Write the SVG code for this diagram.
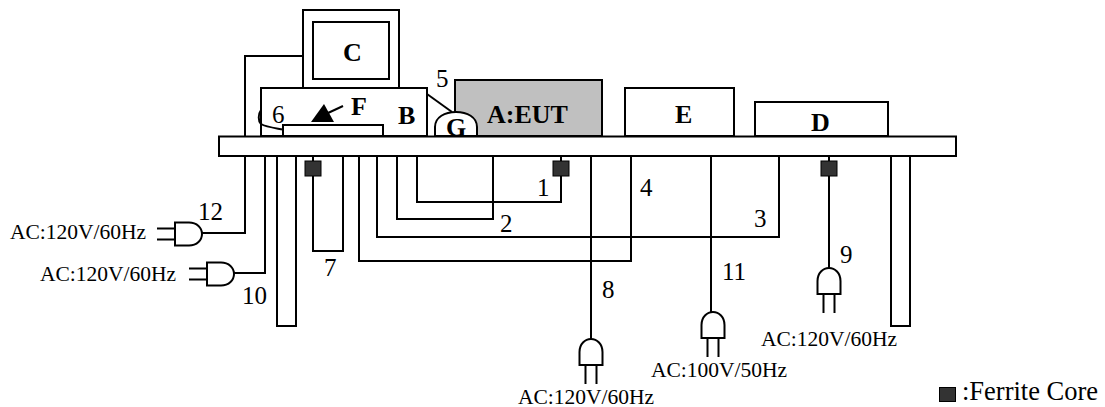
<svg xmlns="http://www.w3.org/2000/svg" width="1105" height="407" viewBox="0 0 1105 407">
<defs>
<style>
.s{fill:none;stroke:#000;stroke-width:2}
.b{fill:#fff;stroke:#000;stroke-width:2}
.t{font-family:"Liberation Serif",serif;fill:#000}
.n{font-size:25px}
.l{font-size:21.5px}
.h{font-size:26px;font-weight:bold}
.fc{fill:#333;stroke:#000;stroke-width:1}
</style>
<g id="plugD"><path class="b" d="M-11.500 26V13C-11.500 5-6 0 0 0S11.500 5 11.500 13V26Z"/><path class="s" d="M-5.500 26V45M5.500 26V45"/></g>
<g id="plugL"><path class="b" d="M0 -11.500H14C22 -11.500 27 -6 27 0S22 11.500 14 11.500H0Z"/><path class="s" d="M0 -5.500H-18M0 5.500H-18"/></g>
</defs>
<g id="table-legs">
<rect class="b" x="277" y="156" width="19" height="170"/>
<rect class="b" x="891" y="156" width="19" height="170"/>
</g>
<g id="C"><rect class="b" x="303" y="10" width="96" height="78"/><rect class="b" x="313" y="22" width="76" height="57"/><text class="t h" x="343" y="61">C</text></g>
<g id="B"><rect class="b" x="261" y="88" width="166" height="48"/><text class="t h" x="398" y="124">B</text></g>
<g id="F"><rect class="b" x="283" y="125" width="100" height="11"/><path d="M311 122L324 104L334 122Z" fill="#000"/><path class="s" d="M328 113L343 106"/><text class="t h" x="351" y="115">F</text></g>
<g id="A"><rect x="455" y="80" width="147" height="56" fill="#c0c0c0" stroke="#000" stroke-width="2"/><text class="t h" x="487" y="123">A:EUT</text></g>
<g id="G"><path class="b" d="M435 136V127C435 117 445 112 456 112C467 112 477 117 477 127V136Z"/><text class="t h" x="446" y="136">G</text></g>
<g id="E"><rect class="b" x="625" y="88" width="109" height="48"/><text class="t h" x="675" y="123">E</text></g>
<g id="D"><rect class="b" x="755" y="102" width="133" height="34"/><text class="t h" x="811" y="131">D</text></g>
<g id="table"><rect class="b" x="219" y="136.500" width="737" height="19.500"/></g>
<g id="connectors">
<path class="s" d="M302 56H245V136M245 156V233H202"/>
<path class="s" d="M265 156V273H234"/>
<path class="s" d="M313 156V251H343V156"/>
<path class="s" d="M359 156V261H631V156"/>
<path class="s" d="M377 156V237H779V156"/>
<path class="s" d="M397 156V219H493V156"/>
<path class="s" d="M417 156V202H561V156"/>
<path class="s" d="M591 156V339"/>
<path class="s" d="M711 156V312"/>
<path class="s" d="M829 156V268"/>
<path class="s" d="M427 94L452 112"/>
<path class="s" d="M261 110C258 114 258 121 261 124C266 127 275 128 283 129.500"/>
</g>
<g id="ferrites">
<rect class="fc" x="305" y="161" width="16" height="15"/>
<rect class="fc" x="553" y="161" width="16" height="15"/>
<rect class="fc" x="821" y="161" width="16" height="15"/>
<rect class="fc" x="939.500" y="387.500" width="16" height="14"/>
</g>
<g id="plugs">
<use href="#plugL" x="175" y="234"/>
<use href="#plugL" x="207" y="274"/>
<use href="#plugD" x="591" y="339"/>
<use href="#plugD" x="713" y="312"/>
<use href="#plugD" x="829" y="268"/>
</g>
<g id="labels">
<text class="t n" x="436" y="87">5</text>
<text class="t n" x="272" y="123">6</text>
<text class="t n" x="198" y="220">12</text>
<text class="t n" x="242" y="304">10</text>
<text class="t n" x="537" y="196">1</text>
<text class="t n" x="500" y="232">2</text>
<text class="t n" x="754" y="227">3</text>
<text class="t n" x="640" y="196">4</text>
<text class="t n" x="324" y="276">7</text>
<text class="t n" x="602" y="298">8</text>
<text class="t n" x="840" y="263">9</text>
<text class="t n" x="722" y="280">11</text>
<text class="t l" x="10" y="239">AC:120V/60Hz</text>
<text class="t l" x="40" y="281">AC:120V/60Hz</text>
<text class="t l" x="518" y="404">AC:120V/60Hz</text>
<text class="t l" x="651" y="377">AC:100V/50Hz</text>
<text class="t l" x="761" y="346">AC:120V/60Hz</text>
<text class="t" style="font-size:26.500px" x="962" y="400">:Ferrite Core</text>
</g>
</svg>
